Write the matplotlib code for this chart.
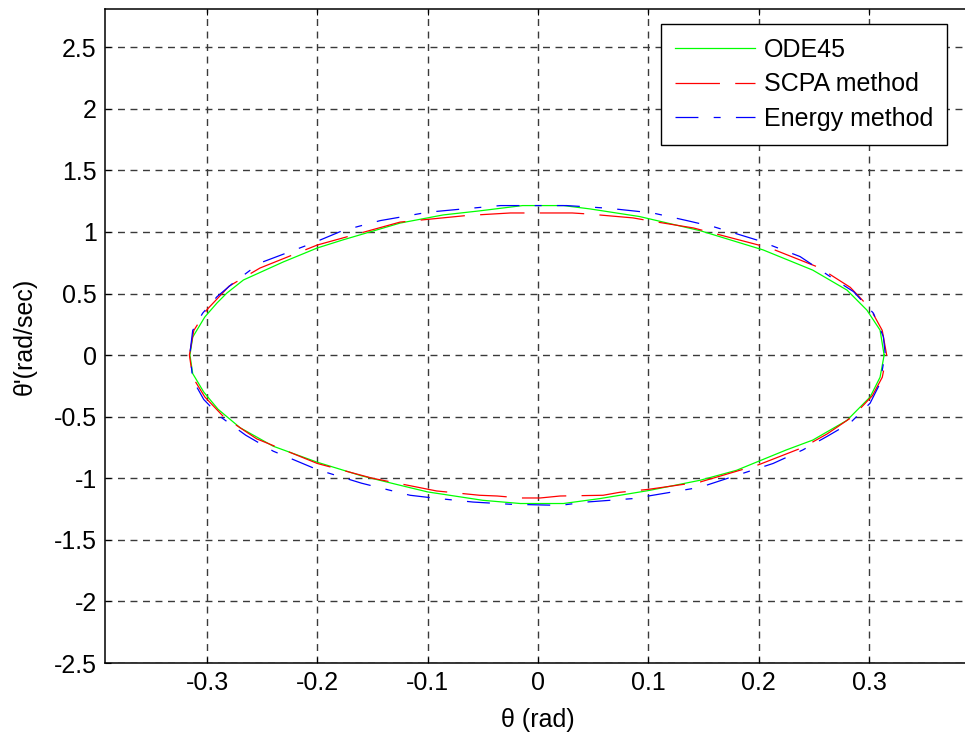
import matplotlib
matplotlib.use("Agg")
from matplotlib import pyplot as plt

plt.rcParams['font.family'] = ['Liberation Sans', 'DejaVu Sans']
plt.rcParams['lines.scale_dashes'] = False

# ODE45 (green), going round from the right end
ode_x = [0.3137, 0.31, 0.298, 0.28, 0.249, 0.204, 0.147, 0.092, 0.047, 0.023, -0.014,
         -0.053, -0.086, -0.125, -0.177, -0.2, -0.231, -0.267, -0.282, -0.291, -0.302,
         -0.313, -0.3155, -0.313, -0.303, -0.29, -0.27, -0.24, -0.2, -0.16, -0.125, -0.1,
         -0.05, -0.016, 0.023, 0.056, 0.1, 0.147, 0.18, 0.225, 0.249, 0.28, 0.301, 0.31, 0.3137]
ode_y = [0.0, 0.203, 0.366, 0.528, 0.69, 0.854, 1.01, 1.125, 1.187, 1.214, 1.214,
         1.171, 1.138, 1.072, 0.935, 0.87, 0.756, 0.61, 0.504, 0.423, 0.31,
         0.146, 0.0, -0.15, -0.3, -0.44, -0.59, -0.74, -0.87, -0.98, -1.057, -1.111,
         -1.179, -1.205, -1.205, -1.165, -1.1, -1.016, -0.935, -0.77, -0.69, -0.53, -0.34, -0.18, 0.0]

# SCPA method (red)
scpa_x = [0.316, 0.312, 0.301, 0.283, 0.255, 0.21, 0.141, 0.1, 0.086, 0.045, 0.031, -0.025,
          -0.065, -0.125, -0.2, -0.252, -0.28, -0.3, -0.312, -0.316, -0.313, -0.302, -0.285,
          -0.255, -0.2, -0.15, -0.092, -0.053, -0.037, -0.016, 0.002, 0.02, 0.059, 0.074,
          0.1, 0.147, 0.2, 0.24, 0.262, 0.285, 0.303, 0.312, 0.316]
scpa_y = [0.0, 0.2, 0.38, 0.55, 0.71, 0.87, 1.032, 1.092, 1.114, 1.146, 1.154, 1.154,
          1.133, 1.08, 0.894, 0.707, 0.56, 0.37, 0.2, 0.0, -0.18, -0.34, -0.5,
          -0.68, -0.88, -1.0, -1.103, -1.138, -1.144, -1.16, -1.16, -1.144, -1.138, -1.114,
          -1.09, -1.03, -0.89, -0.75, -0.64, -0.5, -0.33, -0.18, 0.0]

# Energy method (blue)
energy_x = [0.3146, 0.313, 0.304, 0.286, 0.265, 0.2375, 0.2, 0.16, 0.135, 0.104, 0.063, 0.026,
            -0.034, -0.07, -0.1, -0.125, -0.143, -0.177, -0.204, -0.252, -0.276, -0.291,
            -0.304, -0.313, -0.3155, -0.313, -0.303, -0.288, -0.265, -0.24, -0.2, -0.16,
            -0.116, -0.095, -0.059, -0.025, 0.02, 0.044, 0.086, 0.122, 0.147, 0.213, 0.24,
            0.262, 0.283, 0.301, 0.31, 0.3146]
energy_y = [0.016, 0.15, 0.34, 0.515, 0.636, 0.8, 0.93, 1.04, 1.092, 1.154, 1.193, 1.214,
            1.214, 1.185, 1.16, 1.12, 1.092, 1.011, 0.91, 0.748, 0.588, 0.474,
            0.34, 0.2, 0.016, -0.2, -0.36, -0.5, -0.65, -0.78, -0.93, -1.04,
            -1.138, -1.16, -1.193, -1.211, -1.22, -1.193, -1.165, -1.111, -1.073, -0.88, -0.77,
            -0.66, -0.55, -0.39, -0.23, 0.016]

x_ticks = [-0.3, -0.2, -0.1, 0, 0.1, 0.2, 0.3]
x_labels = ["-0.3", "-0.2", "-0.1", "0", "0.1", "0.2", "0.3"]
y_ticks = [-2.5, -2, -1.5, -1, -0.5, 0, 0.5, 1, 1.5, 2, 2.5]
y_labels = ["-2.5", "-2", "-1.5", "-1", "-0.5", "0", "0.5", "1", "1.5", "2", "2.5"]


def main():
    fig = plt.figure(figsize=(9.65, 7.38), dpi=100)
    ax = fig.add_axes([0.1088, 0.1016, 0.8975, 0.8862])

    ax.plot(ode_x, ode_y, color=(0, 1, 0), lw=0.9, label="ODE45")
    ax.plot(scpa_x, scpa_y, color=(1, 0, 0), lw=0.9, dashes=(32, 11), label="SCPA method")
    ax.plot(energy_x, energy_y, color=(0, 0, 1), lw=0.9, dashes=(16.5, 11, 5, 11),
            label="Energy method")

    ax.set_xlim(-0.3925, 0.3925)
    ax.set_ylim(-2.5, 2.81)
    ax.set_xticks(x_ticks)
    ax.set_xticklabels(x_labels)
    ax.set_yticks(y_ticks)
    ax.set_yticklabels(y_labels)
    ax.tick_params(direction="in", length=4, width=0.8, labelsize=18, pad=6,
                   top=True, right=True)
    ax.grid(True, color="#3a3a3a", lw=1.0, dashes=(5, 4))
    for s in ax.spines.values():
        s.set_linewidth(1.1)

    ax.set_xlabel("\u03b8 (rad)", fontsize=18, labelpad=9)
    ax.set_ylabel("\u03b8'(rad/sec)", fontsize=18, labelpad=12)

    leg = ax.legend(loc="upper left", bbox_to_anchor=(0.642, 0.977), fontsize=18,
                    fancybox=False, framealpha=1, edgecolor="black", handlelength=3.2,
                    borderaxespad=0, labelspacing=0.42, handletextpad=0.36,
                    borderpad=0.55)
    leg.get_frame().set_linewidth(1.0)

    fig.savefig("out.png", dpi=100)


if __name__ == "__main__":
    main()
